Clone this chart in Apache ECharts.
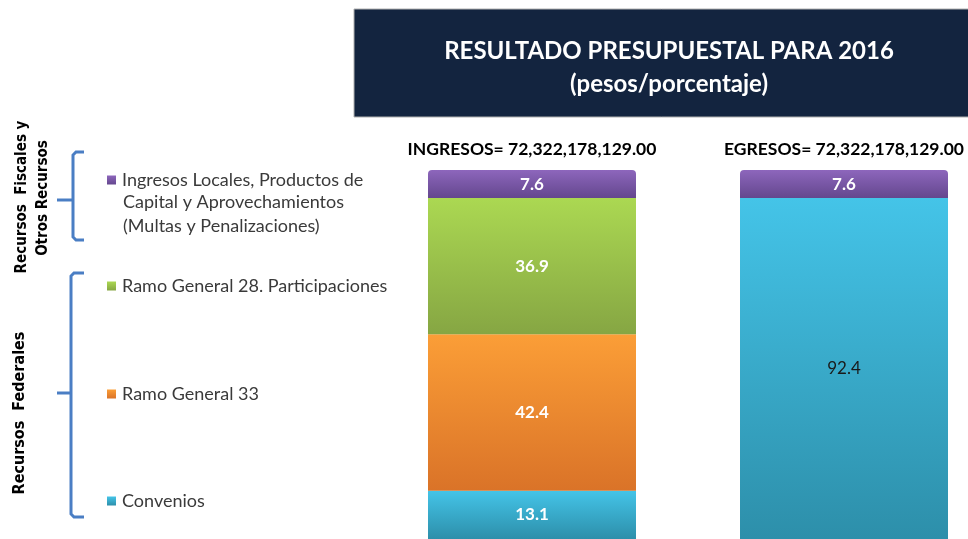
<!DOCTYPE html>
<html>
<head>
<meta charset="utf-8">
<script src="https://cdn.jsdelivr.net/npm/echarts@6/dist/echarts.min.js"></script>
<style>
html,body{margin:0;padding:0;background:#fff;}
#c{width:968px;height:539px;}
</style>
</head>
<body>
<div id="c"></div>
<script>
// ---- data ----
const categories = ['INGRESOS= 72,322,178,129.00', 'EGRESOS= 72,322,178,129.00'];
const seriesNames = ['Convenios', 'Ramo General 33', 'Ramo General 28. Participaciones', 'Ingresos Locales, Productos de'];
const convenios = [13.1, 92.4];
const ramo33 = [42.4, null];
const ramo28 = [36.9, null];
const ingresosLocales = [7.6, 7.6];

function grad(top, bottom) {
  return new echarts.graphic.LinearGradient(0, 0, 0, 1, [
    { offset: 0, color: top }, { offset: 1, color: bottom }
  ]);
}
const FONT = 'Lato, "Noto Sans", sans-serif';
const SIDEFONT = '"Liberation Sans Narrow", "DejaVu Sans Condensed", sans-serif';
const chart = echarts.init(document.getElementById('c'), null, { renderer: 'canvas' });

const labelWhite = { show: true, position: 'inside', color: '#fff', fontWeight: 'bold', fontSize: 17, fontFamily: FONT,
  formatter: p => p.value == null ? '' : Number(p.value).toFixed(1) };

function legendAt(name, top) {
  return {
    data: [name], left: 107, top: top, orient: 'vertical', icon: 'rect',
    itemWidth: 9, itemHeight: 9, itemGap: 0, selectedMode: false, padding: 0,
    textStyle: { fontSize: 18, color: '#3a3a3a', fontFamily: FONT, padding: [0, 0, 0, 1] }
  };
}

const option = {
  animation: false,
  backgroundColor: '#fff',
  title: {
    text: 'RESULTADO PRESUPUESTAL PARA 2016',
    subtext: '(pesos/porcentaje)',
    left: 664, top: 34, textAlign: 'center', itemGap: 9,
    textStyle: { color: '#fff', fontWeight: 'bold', fontSize: 24, fontFamily: FONT },
    subtextStyle: { color: '#fff', fontWeight: 'bold', fontSize: 24, fontFamily: FONT }
  },
  legend: [
    legendAt(seriesNames[3], 171),
    legendAt(seriesNames[2], 277),
    legendAt(seriesNames[1], 385),
    legendAt(seriesNames[0], 492)
  ],
  grid: { left: 532, width: 312, top: 170, height: 372 },
  xAxis: {
    type: 'category', data: categories, position: 'top', boundaryGap: false,
    axisLine: { show: false }, axisTick: { show: false },
    axisLabel: { color: '#000', fontWeight: 'bold', fontSize: 17.5, fontFamily: FONT, margin: 12,
      interval: 0, showMinLabel: true, showMaxLabel: true, hideOverlap: false }
  },
  yAxis: { type: 'value', min: 0, max: 100, show: false, splitLine: { show: false } },
  series: [
    { name: seriesNames[0], type: 'bar', stack: 's', barWidth: 208, clip: false,
      data: convenios.map((v, i) => i === 1
        ? { value: v, label: { color: '#1a1a1a', fontWeight: 'normal' } }
        : v),
      itemStyle: { color: grad('#44C4E8', '#2D8FAA') }, label: labelWhite },
    { name: seriesNames[1], type: 'bar', stack: 's', clip: false, data: ramo33,
      itemStyle: { color: grad('#FB9E37', '#DA7328') }, label: labelWhite },
    { name: seriesNames[2], type: 'bar', stack: 's', clip: false, data: ramo28,
      itemStyle: { color: grad('#ABD852', '#86A643') }, label: labelWhite },
    { name: seriesNames[3], type: 'bar', stack: 's', clip: false, data: ingresosLocales,
      itemStyle: { color: grad('#8D66BC', '#64478E'), borderRadius: [4, 4, 0, 0] }, label: labelWhite }
  ],
  graphic: [
    { type: 'rect', z: -1, shape: { x: 354, y: 9, width: 620, height: 108 },
      style: { fill: '#13243F', stroke: '#b0b0b0', lineWidth: 1 } },
    { type: 'text', left: 123, top: 193, style: { text: 'Capital y Aprovechamientos', fill: '#3a3a3a', font: '18px ' + FONT } },
    { type: 'text', left: 123, top: 217, style: { text: '(Multas y Penalizaciones)', fill: '#3a3a3a', font: '18px ' + FONT } },
    { type: 'text', x: 22, y: 197, rotation: Math.PI / 2,
      style: { text: 'Recursos  Fiscales y', fill: '#000', font: 'bold 15px ' + SIDEFONT, align: 'center', verticalAlign: 'middle' } },
    { type: 'text', x: 43, y: 198, rotation: Math.PI / 2,
      style: { text: 'Otros Recursos', fill: '#000', font: 'bold 15px ' + SIDEFONT, align: 'center', verticalAlign: 'middle' } },
    { type: 'text', x: 20, y: 413, rotation: Math.PI / 2,
      style: { text: 'Recursos  Federales', fill: '#000', font: 'bold 16px ' + SIDEFONT, align: 'center', verticalAlign: 'middle' } },
    { type: 'polyline', shape: { points: [[84, 152], [76, 152], [73, 155], [73, 237], [76, 240], [84, 240]] },
      style: { stroke: '#4A7EC4', lineWidth: 3, fill: null } },
    { type: 'line', shape: { x1: 57, y1: 200, x2: 73, y2: 200 }, style: { stroke: '#4A7EC4', lineWidth: 3 } },
    { type: 'polyline', shape: { points: [[84, 273], [74, 273], [71, 276], [71, 514], [74, 517], [84, 517]] },
      style: { stroke: '#4A7EC4', lineWidth: 3, fill: null } },
    { type: 'line', shape: { x1: 57, y1: 393, x2: 71, y2: 393 }, style: { stroke: '#4A7EC4', lineWidth: 3 } }
  ]
};
chart.setOption(option);
</script>
</body>
</html>
